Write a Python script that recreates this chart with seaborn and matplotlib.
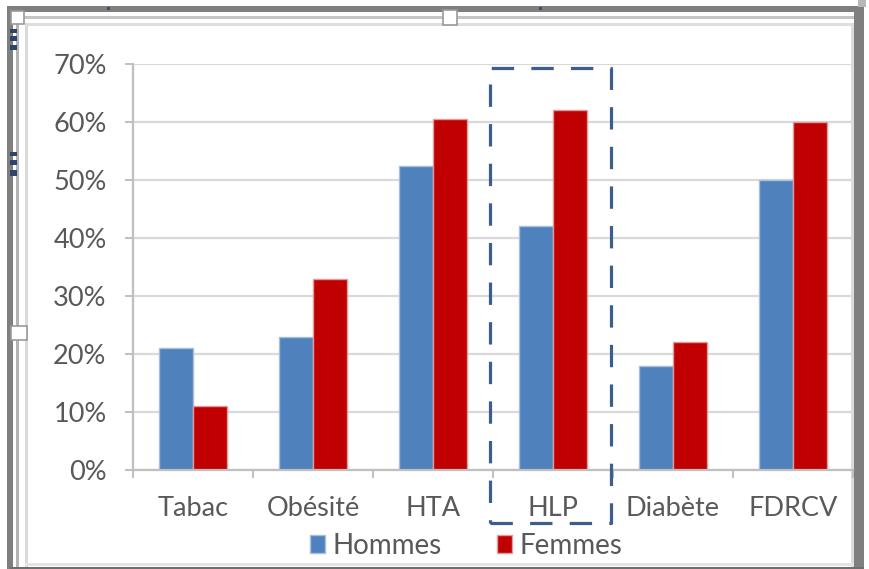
import numpy as np
import pandas as pd
import matplotlib
matplotlib.use("Agg")
import matplotlib.pyplot as plt
import seaborn as sns
from matplotlib.patches import Rectangle, Patch
from matplotlib.ticker import PercentFormatter, FixedLocator
import matplotlib.transforms as mtransforms

# Facteurs de risque cardiovasculaire, prévalence par sexe (%)
facteurs = ["Tabac", "Obésité", "HTA", "HLP", "Diabète", "FDRCV"]
hommes = [21, 23, 52.5, 42, 18, 50]
femmes = [11, 33, 60.5, 62, 22, 60]
series = ["Hommes", "Femmes"]
couleurs = {"Hommes": "#4F81BD", "Femmes": "#C00000"}
bords = {"Hommes": "#A7BFDF", "Femmes": "#E39A9A"}
y_ticks = [0, 10, 20, 30, 40, 50, 60, 70]

df = pd.DataFrame({
    "Facteur": facteurs * 2,
    "Sexe": ["Hommes"] * len(facteurs) + ["Femmes"] * len(facteurs),
    "Valeur": np.array(hommes + femmes) / 100.0,
})

sns.set_theme(style="white")
plt.rcParams["font.family"] = ["Lato", "DejaVu Sans"]
texte = "#595959"
gris_axe = "#BFBFBF"
taille = 19.5

W, H = 869, 569
fig = plt.figure(figsize=(W / 100, H / 100), dpi=100)
fig.patch.set_facecolor("white")

# Cadre de sélection du document autour du graphique
bg = fig.add_axes([0, 0, 1, 1], zorder=-1)
bg.set_xlim(0, W)
bg.set_ylim(H, 0)
bg.axis("off")

def rect(x, y, w, h, fc, ec="none", lw=0):
    bg.add_patch(Rectangle((x, y), w, h, facecolor=fc, edgecolor=ec, linewidth=lw))

rect(16, 16, 838, 2.5, "#C4C4C4")
rect(25, 23, 827, 2.5, "#DEDEDE")
rect(16, 16, 2.5, 553, "#B4B4B4")
rect(25, 23, 2.5, 546, "#DADADA")
rect(851, 23, 3, 546, "#DCDCDC")
rect(25, 563, 829, 3, "#E4E4E4")
rect(7, 6, 857, 6, "#7F7F7F")
rect(7, 6, 6, 563, "#7F7F7F")
rect(854, 6, 10, 563, "#7F7F7F")
rect(10, 566.5, 854, 3, "#6E6E6E")
rect(858, 0, 8, 7, "#B8B8B8")
for xm in (108, 540):
    rect(xm - 1.5, 7, 3, 3, "#3F4F6A")
for ym, hm in ((29, 4), (36, 5), (45, 5), (152, 4), (160, 5), (170, 6)):
    rect(10, ym, 7, hm, "#2E4470")
rect(10.5, 11, 13, 13, "white", "#9A9A9A", 1.2)
rect(442.5, 9.5, 14, 15, "white", "#9A9A9A", 1.2)
rect(10.5, 325.5, 16, 14, "white", "#9A9A9A", 1.2)

# Zone de tracé
ax = fig.add_axes([133 / W, (H - 470) / H, 720 / W, 406 / H])
ax.set_facecolor("none")
sns.barplot(data=df, x="Facteur", y="Valeur", hue="Sexe", order=facteurs,
            hue_order=series, palette=couleurs, width=0.57, saturation=1,
            ax=ax, legend=False)

for cont, s in zip(ax.containers, series):
    for bar in cont:
        bar.set_edgecolor(bords[s])
        bar.set_linewidth(1.0)
        bar.set_zorder(3)

ax.set_xlim(-0.5, len(facteurs) - 0.5)
ax.set_ylim(0, 0.70)
ax.set_yticks(np.array(y_ticks) / 100.0)
ax.yaxis.set_major_formatter(PercentFormatter(1.0, decimals=0))
ax.set_xlabel("")
ax.set_ylabel("")

ax.grid(axis="y", color="#D9D9D9", linewidth=1.6, zorder=0)
ax.grid(axis="x", visible=False)
ax.set_axisbelow(True)

for side in ("top", "right"):
    ax.spines[side].set_visible(False)
for side in ("left", "bottom"):
    ax.spines[side].set_color(gris_axe)
    ax.spines[side].set_linewidth(1.6)
    ax.spines[side].set_zorder(4)

ax.tick_params(axis="y", which="major", direction="out", length=6, width=1.4,
               color=gris_axe, labelcolor=texte, labelsize=taille, pad=13, left=True)
ax.tick_params(axis="x", which="major", length=0, labelcolor=texte,
               labelsize=taille, pad=19)
ax.xaxis.set_minor_locator(FixedLocator(np.arange(-0.5, len(facteurs), 1.0)))
ax.tick_params(axis="x", which="minor", direction="out", length=6, width=1.4,
               color=gris_axe, bottom=True)

# Encadré pointillé autour de HLP
trans = mtransforms.blended_transform_factory(ax.transData, ax.transAxes)
i_hlp = facteurs.index("HLP")
lw_box = 2.3
box = Rectangle((i_hlp - 0.525, -0.131), 1.0083, 1.12,
                transform=trans, fill=False, edgecolor="#3B5E8C",
                linewidth=lw_box, linestyle=(0, (7.0, 5.4)),
                clip_on=False, zorder=6, joinstyle="round")
ax.add_patch(box)

# Légende
handles = [Patch(facecolor=couleurs[s], edgecolor=bords[s], linewidth=1.0) for s in series]
fig.legend(handles, series, loc="center", bbox_to_anchor=(466 / W, 1 - 546 / H),
           ncol=2, frameon=False, fontsize=20, labelcolor=texte,
           handlelength=0.55, handleheight=0.6, handletextpad=0.25,
           columnspacing=2.0, borderaxespad=0, borderpad=0)

fig.savefig("out.png", dpi=100, facecolor="white")
